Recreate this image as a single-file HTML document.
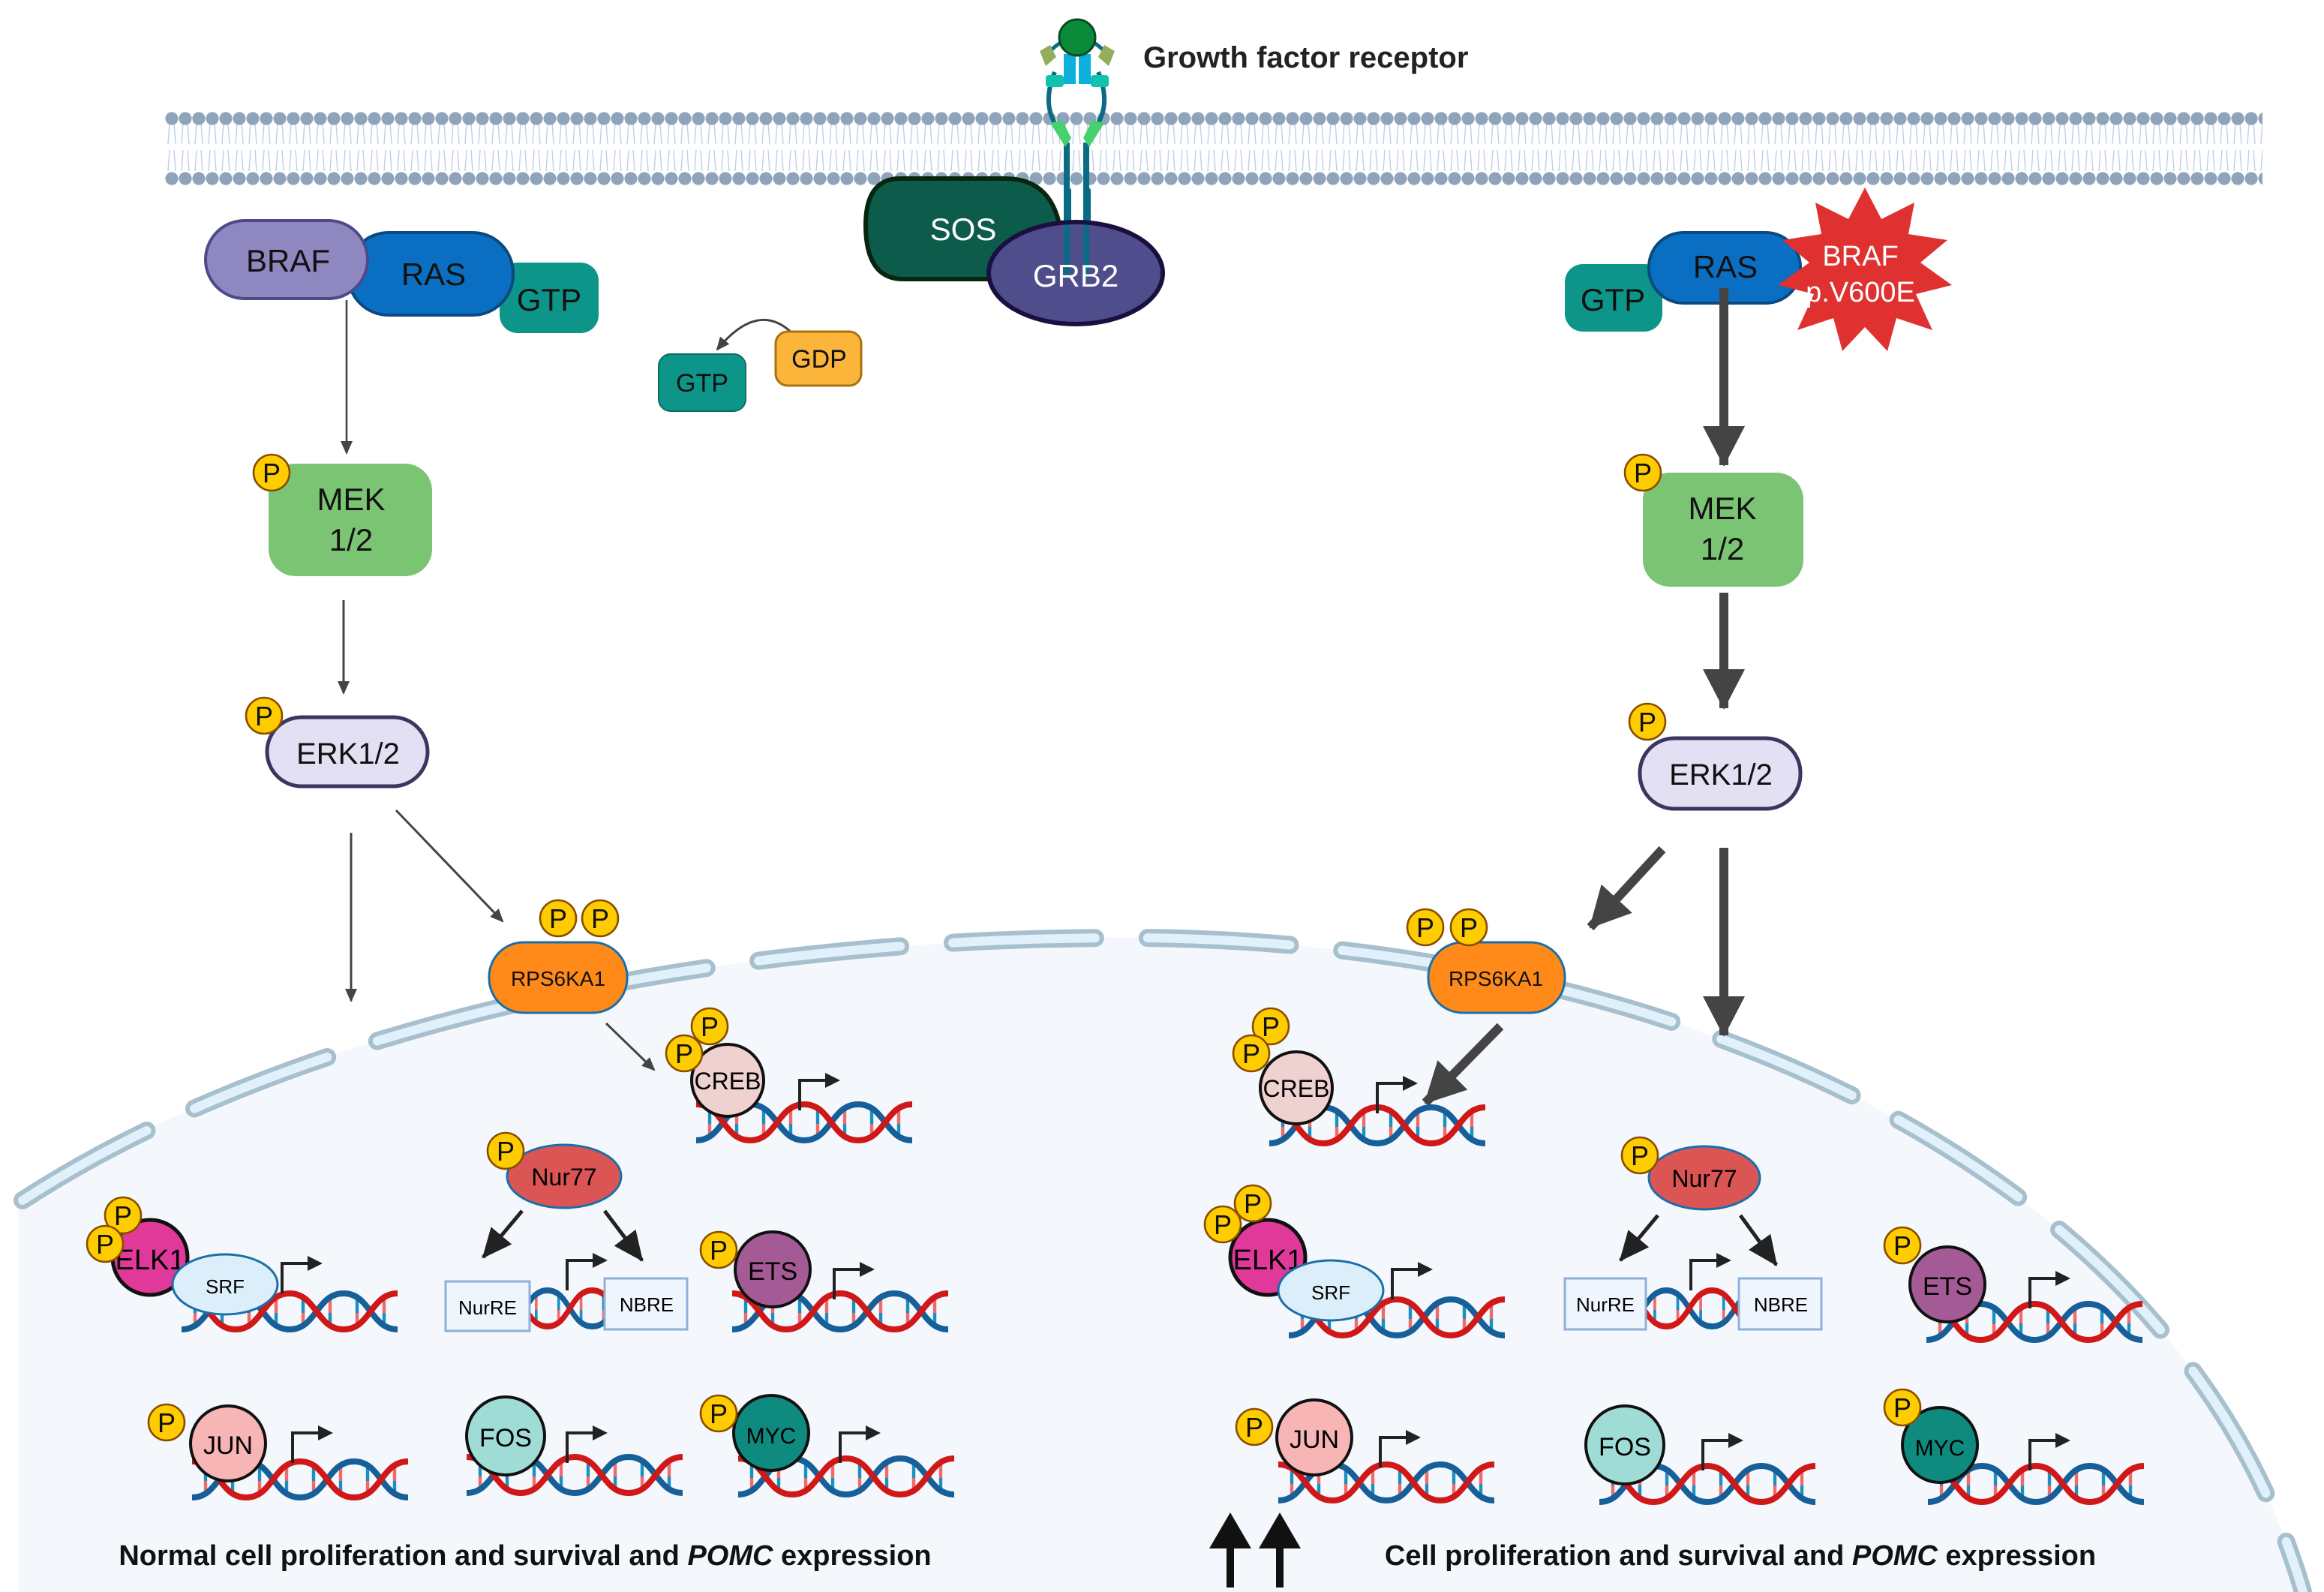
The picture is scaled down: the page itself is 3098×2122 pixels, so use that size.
<!DOCTYPE html>
<html><head><meta charset="utf-8"><style>
html,body{margin:0;padding:0;background:#fff}
svg{display:block}
text{font-family:"Liberation Sans",sans-serif}
</style></head><body>
<svg width="3098" height="2122" viewBox="0 0 1549 1061" xmlns="http://www.w3.org/2000/svg">
<defs>
<pattern id="mem" patternUnits="userSpaceOnUse" x="110" y="72" width="9" height="52">
<line x1="3" y1="10" x2="2" y2="24" stroke="#bcd0e8" stroke-width="0.7"/>
<line x1="6" y1="10" x2="7" y2="24" stroke="#bcd0e8" stroke-width="0.7"/>
<line x1="3" y1="28" x2="2" y2="42" stroke="#bcd0e8" stroke-width="0.7"/>
<line x1="6" y1="28" x2="7" y2="42" stroke="#bcd0e8" stroke-width="0.7"/>
<circle cx="4.5" cy="7" r="4.3" fill="#8fa4bb"/>
<circle cx="4.5" cy="47" r="4.3" fill="#8fa4bb"/>
</pattern>
<g id="dna">
<g stroke-width="2.2">
<line x1="9" y1="6" x2="9" y2="15" stroke="#1a8fc0"/><line x1="9" y1="15" x2="9" y2="24" stroke="#f06a6a"/>
<line x1="27" y1="5" x2="27" y2="15" stroke="#f06a6a"/><line x1="27" y1="15" x2="27" y2="24" stroke="#1a8fc0"/>
<line x1="45" y1="5" x2="45" y2="15" stroke="#1a8fc0"/><line x1="45" y1="15" x2="45" y2="24" stroke="#f06a6a"/>
<line x1="63" y1="5" x2="63" y2="15" stroke="#f06a6a"/><line x1="63" y1="15" x2="63" y2="24" stroke="#1a8fc0"/>
<line x1="81" y1="5" x2="81" y2="15" stroke="#1a8fc0"/><line x1="81" y1="15" x2="81" y2="24" stroke="#f06a6a"/>
<line x1="99" y1="5" x2="99" y2="15" stroke="#f06a6a"/><line x1="99" y1="15" x2="99" y2="24" stroke="#1a8fc0"/>
<line x1="117" y1="5" x2="117" y2="15" stroke="#1a8fc0"/><line x1="117" y1="15" x2="117" y2="24" stroke="#f06a6a"/>
<line x1="135" y1="5" x2="135" y2="15" stroke="#f06a6a"/><line x1="135" y1="15" x2="135" y2="24" stroke="#1a8fc0"/>
</g>
<path d="M0 26 C18 26 18 2 36 2 S54 26 72 26 S90 2 108 2 S126 26 144 26" fill="none" stroke="#175f98" stroke-width="4"/>
<path d="M0 2 C18 2 18 26 36 26 S54 2 72 2 S90 26 108 26 S126 2 144 2" fill="none" stroke="#d01818" stroke-width="4"/>
</g>
<g id="prom"><path d="M0 0 V-20 H18" fill="none" stroke="#222" stroke-width="2"/><polygon points="17,-25 27,-20 17,-15" fill="#222"/></g>
<g id="P"><circle r="12" fill="#ffcc00" stroke="#8a4d00" stroke-width="1.3"/><text y="6.5" text-anchor="middle" font-size="18" fill="#111">P</text></g>
<marker id="ah" markerWidth="10" markerHeight="10" refX="8" refY="5" orient="auto" markerUnits="userSpaceOnUse"><polygon points="0,1 9,5 0,9" fill="#444"/></marker>
<marker id="ahb" markerWidth="30" markerHeight="30" refX="26" refY="15" orient="auto" markerUnits="userSpaceOnUse"><polygon points="0,1 27,15 0,29" fill="#444"/></marker>
<marker id="ahk" markerWidth="22" markerHeight="22" refX="19" refY="11" orient="auto" markerUnits="userSpaceOnUse"><polygon points="0,2 20,11 0,20" fill="#222"/></marker>
</defs>

<!-- nucleus -->
<path d="M12 800 C200 680 480 625 750 625 C1100 625 1450 770 1535 1061 L12 1061 Z" fill="#f4f8fd"/>
<path d="M15 800 C200 680 480 625 750 625 C1100 625 1450 770 1535 1061" fill="none" stroke="#a8bfcd" stroke-width="12" stroke-dasharray="95 35" stroke-linecap="round"/>
<path d="M15 800 C200 680 480 625 750 625 C1100 625 1450 770 1535 1061" fill="none" stroke="#e0f1fc" stroke-width="6" stroke-dasharray="95 35" stroke-linecap="round"/>

<!-- membrane -->
<rect x="110" y="72" width="1398" height="52" fill="url(#mem)"/>

<!-- receptor -->
<g>
<line x1="711" y1="95" x2="711" y2="185" stroke="#0a6b85" stroke-width="4"/>
<line x1="724" y1="95" x2="724" y2="185" stroke="#0a6b85" stroke-width="4"/>
<rect x="709" y="125" width="5" height="30" rx="2" fill="#0a6b85"/>
<rect x="722" y="125" width="5" height="30" rx="2" fill="#0a6b85"/>
<path d="M703 48 Q694 70 705 85" fill="none" stroke="#0a6b85" stroke-width="3"/>
<path d="M732 48 Q741 70 730 85" fill="none" stroke="#0a6b85" stroke-width="3"/>
<polygon points="700,82 708,80 714,92 710,98" fill="#45d16e"/>
<polygon points="736,82 728,80 722,92 726,98" fill="#45d16e"/>
<rect x="709" y="36" width="8" height="20" fill="#0bb1dc"/><rect x="719" y="36" width="8" height="20" fill="#0bb1dc"/>
<rect x="697" y="50" width="12" height="8" rx="2" fill="#11c2ad"/><rect x="727" y="50" width="12" height="8" rx="2" fill="#11c2ad"/>
<path d="M700 34 Q710 24 718 26 Q726 24 736 34" fill="none" stroke="#0a6b85" stroke-width="2.5"/>
<polygon points="693,34 700,30 704,38 697,44" fill="#93ad5a"/>
<polygon points="743,34 736,30 732,38 739,44" fill="#93ad5a"/>
<circle cx="718" cy="25" r="12" fill="#0b8a3a" stroke="#0a4a20" stroke-width="1.5"/>
</g>
<text x="762" y="45" font-size="20" font-weight="bold" fill="#222">Growth factor receptor</text>

<!-- SOS / GRB2 -->
<path d="M600 119 H670 Q708 119 708 170 V186 H602 Q577 186 577 150 Q577 119 600 119 Z" fill="#0d5c4b" stroke="#06260f" stroke-width="3"/>
<text x="642" y="160" font-size="21" fill="#fff" text-anchor="middle">SOS</text>
<ellipse cx="717" cy="182" rx="58" ry="34" fill="#4f4d8c" stroke="#1a1040" stroke-width="3"/>
<line x1="711" y1="150" x2="711" y2="185" stroke="#0a6b85" stroke-width="4"/>
<line x1="724" y1="150" x2="724" y2="185" stroke="#0a6b85" stroke-width="4"/>
<text x="717" y="191" font-size="21" fill="#fff" text-anchor="middle">GRB2</text>

<!-- GTP/GDP -->
<path d="M528 222 Q505 200 478 233" fill="none" stroke="#444" stroke-width="1.5" marker-end="url(#ah)"/>
<rect x="439" y="236" width="58" height="38" rx="8" fill="#0e958a" stroke="#0a6b65"/>
<text x="468" y="261" font-size="17" text-anchor="middle" fill="#111">GTP</text>
<rect x="517" y="221" width="57" height="36" rx="8" fill="#fbb53b" stroke="#a8720f" stroke-width="1.5"/>
<text x="546" y="245" font-size="17" text-anchor="middle" fill="#111">GDP</text>

<!-- LEFT pathway -->
<rect x="333" y="175" width="66" height="47" rx="12" fill="#0e958a"/>
<text x="366" y="207" font-size="21" text-anchor="middle" fill="#111">GTP</text>
<rect x="232" y="155" width="110" height="55" rx="27" fill="#0a6fc2" stroke="#0a4a80" stroke-width="2"/>
<text x="289" y="190" font-size="21" text-anchor="middle" fill="#111">RAS</text>
<rect x="137" y="147" width="108" height="52" rx="26" fill="#8e87c0" stroke="#4d4a8a" stroke-width="2"/>
<text x="192" y="181" font-size="21" text-anchor="middle" fill="#111">BRAF</text>
<line x1="231" y1="200" x2="231" y2="302" stroke="#444" stroke-width="1.3" marker-end="url(#ah)"/>
<rect x="179" y="309" width="109" height="75" rx="18" fill="#7bc474"/>
<text x="234" y="340" font-size="21" text-anchor="middle" fill="#111">MEK</text>
<text x="234" y="367" font-size="21" text-anchor="middle" fill="#111">1/2</text>
<use href="#P" x="181" y="315"/>
<line x1="229" y1="400" x2="229" y2="462" stroke="#444" stroke-width="1.5" marker-end="url(#ah)"/>
<rect x="178" y="478" width="107" height="46" rx="23" fill="#e4e0f3" stroke="#3b3560" stroke-width="2.5"/>
<text x="232" y="509" font-size="20" text-anchor="middle" fill="#111">ERK1/2</text>
<use href="#P" x="176" y="477"/>
<line x1="234" y1="555" x2="234" y2="667" stroke="#444" stroke-width="1.5" marker-end="url(#ah)"/>
<line x1="264" y1="540" x2="335" y2="614" stroke="#444" stroke-width="1.5" marker-end="url(#ah)"/>
<rect x="326" y="628" width="92" height="47" rx="23" fill="#ff8a1a" stroke="#1b6fa8" stroke-width="1.5"/>
<text x="372" y="657" font-size="14" text-anchor="middle" fill="#111">RPS6KA1</text>
<use href="#P" x="372" y="612"/><use href="#P" x="400" y="612"/>
<line x1="404" y1="682" x2="436" y2="713" stroke="#444" stroke-width="1.5" marker-end="url(#ah)"/>

<!-- left genes -->
<use href="#dna" x="464" y="734"/><use href="#prom" x="533" y="740"/>
<circle cx="485" cy="720" r="24" fill="#efd1cf" stroke="#111" stroke-width="2"/>
<text x="485" y="726" font-size="16" text-anchor="middle">CREB</text>
<use href="#P" x="473" y="684"/><use href="#P" x="456" y="702"/>

<use href="#dna" transform="translate(335,858) scale(0.83,1)"/><use href="#prom" x="378" y="860"/>
<line x1="348" y1="807" x2="322" y2="838" stroke="#222" stroke-width="2.5" marker-end="url(#ahk)"/>
<line x1="403" y1="807" x2="428" y2="840" stroke="#222" stroke-width="2.5" marker-end="url(#ahk)"/>
<rect x="297" y="854" width="56" height="33" fill="#eef5fd" stroke="#8fb0d8" stroke-width="1.5"/>
<text x="325" y="876" font-size="13" text-anchor="middle">NurRE</text>
<rect x="403" y="852" width="55" height="34" fill="#eef5fd" stroke="#8fb0d8" stroke-width="1.5"/>
<text x="431" y="874" font-size="13" text-anchor="middle">NBRE</text>
<ellipse cx="376" cy="784" rx="38" ry="21" fill="#dc5555" stroke="#1b6fa8" stroke-width="1.5"/>
<text x="376" y="790" font-size="16" text-anchor="middle">Nur77</text>
<use href="#P" x="337" y="767"/>

<use href="#dna" x="121" y="860"/><use href="#prom" x="188" y="862"/>
<circle cx="100" cy="838" r="25" fill="#e0399a" stroke="#111" stroke-width="2.5"/>
<text x="100" y="846" font-size="19" text-anchor="middle">ELK1</text>
<ellipse cx="150" cy="856" rx="35" ry="20" fill="#dceefa" stroke="#1b6fa8" stroke-width="1.5"/>
<text x="150" y="862" font-size="13" text-anchor="middle">SRF</text>
<use href="#P" x="82" y="810"/><use href="#P" x="70" y="829"/>

<use href="#dna" x="488" y="860"/><use href="#prom" x="556" y="866"/>
<circle cx="515" cy="846" r="25" fill="#a45a95" stroke="#111" stroke-width="2"/>
<text x="515" y="853" font-size="17" text-anchor="middle">ETS</text>
<use href="#P" x="479" y="833"/>

<use href="#dna" x="128" y="972"/><use href="#prom" x="195" y="975"/>
<circle cx="152" cy="962" r="25" fill="#f8b5b5" stroke="#111" stroke-width="2"/>
<text x="152" y="969" font-size="17" text-anchor="middle">JUN</text>
<use href="#P" x="111" y="948"/>

<use href="#dna" x="311" y="969"/><use href="#prom" x="378" y="975"/>
<circle cx="337" cy="957" r="26" fill="#9fdcd5" stroke="#111" stroke-width="2"/>
<text x="337" y="964" font-size="17" text-anchor="middle">FOS</text>

<use href="#dna" x="492" y="970"/><use href="#prom" x="560" y="975"/>
<circle cx="514" cy="955" r="25" fill="#0e8a7e" stroke="#111" stroke-width="2"/>
<text x="514" y="962" font-size="15" text-anchor="middle">MYC</text>
<use href="#P" x="479" y="942"/>

<text x="350" y="1043" font-size="19" font-weight="bold" text-anchor="middle" fill="#111">Normal cell proliferation and survival and <tspan font-style="italic">POMC</tspan> expression</text>

<!-- RIGHT pathway -->
<rect x="1043" y="176" width="65" height="45" rx="12" fill="#0e958a"/>
<text x="1075" y="207" font-size="21" text-anchor="middle" fill="#111">GTP</text>
<rect x="1099" y="155" width="101" height="47" rx="23" fill="#0a6fc2" stroke="#0a4a80" stroke-width="2"/>
<text x="1150" y="185" font-size="21" text-anchor="middle" fill="#111">RAS</text>
<polygon points="1243,125 1254,146 1276,135 1272,156 1298,160 1280,175 1301,190 1277,196 1288,220 1264,212 1258,234 1243,218 1228,234 1222,212 1198,220 1209,196 1185,190 1206,175 1188,160 1214,156 1210,135 1232,146" fill="#e03131"/>
<text x="1240" y="177" font-size="19" text-anchor="middle" fill="#fff">BRAF</text>
<text x="1240" y="201" font-size="19" text-anchor="middle" fill="#fff">p.V600E</text>
<line x1="1149" y1="192" x2="1149" y2="310" stroke="#444" stroke-width="6" marker-end="url(#ahb)"/>
<rect x="1095" y="315" width="107" height="76" rx="18" fill="#7bc474"/>
<text x="1148" y="346" font-size="21" text-anchor="middle" fill="#111">MEK</text>
<text x="1148" y="373" font-size="21" text-anchor="middle" fill="#111">1/2</text>
<use href="#P" x="1095" y="315"/>
<line x1="1149" y1="395" x2="1149" y2="472" stroke="#444" stroke-width="6" marker-end="url(#ahb)"/>
<rect x="1093" y="492" width="107" height="47" rx="23" fill="#e4e0f3" stroke="#3b3560" stroke-width="2.5"/>
<text x="1147" y="523" font-size="20" text-anchor="middle" fill="#111">ERK1/2</text>
<use href="#P" x="1098" y="481"/>
<line x1="1108" y1="566" x2="1060" y2="618" stroke="#444" stroke-width="6" marker-end="url(#ahb)"/>
<line x1="1149" y1="565" x2="1149" y2="690" stroke="#444" stroke-width="6" marker-end="url(#ahb)"/>
<rect x="952" y="628" width="91" height="47" rx="23" fill="#ff8a1a" stroke="#1b6fa8" stroke-width="1.5"/>
<text x="997" y="657" font-size="14" text-anchor="middle" fill="#111">RPS6KA1</text>
<use href="#P" x="950" y="618"/><use href="#P" x="979" y="618"/>
<line x1="1000" y1="684" x2="950" y2="735" stroke="#444" stroke-width="6" marker-end="url(#ahb)"/>

<!-- right genes -->
<use href="#dna" x="846" y="736"/><use href="#prom" x="918" y="742"/>
<circle cx="864" cy="725" r="24" fill="#efd1cf" stroke="#111" stroke-width="2"/>
<text x="864" y="731" font-size="16" text-anchor="middle">CREB</text>
<use href="#P" x="847" y="684"/><use href="#P" x="834" y="702"/>

<use href="#dna" transform="translate(1080,858) scale(0.85,1)"/><use href="#prom" x="1127" y="860"/>
<line x1="1105" y1="810" x2="1080" y2="840" stroke="#222" stroke-width="2.5" marker-end="url(#ahk)"/>
<line x1="1160" y1="810" x2="1184" y2="843" stroke="#222" stroke-width="2.5" marker-end="url(#ahk)"/>
<rect x="1043" y="852" width="54" height="34" fill="#eef5fd" stroke="#8fb0d8" stroke-width="1.5"/>
<text x="1070" y="874" font-size="13" text-anchor="middle">NurRE</text>
<rect x="1159" y="852" width="55" height="34" fill="#eef5fd" stroke="#8fb0d8" stroke-width="1.5"/>
<text x="1187" y="874" font-size="13" text-anchor="middle">NBRE</text>
<ellipse cx="1136" cy="785" rx="37" ry="21" fill="#dc5555" stroke="#1b6fa8" stroke-width="1.5"/>
<text x="1136" y="791" font-size="16" text-anchor="middle">Nur77</text>
<use href="#P" x="1093" y="770"/>

<use href="#dna" x="859" y="864"/><use href="#prom" x="928" y="866"/>
<circle cx="845" cy="838" r="25" fill="#e0399a" stroke="#111" stroke-width="2.5"/>
<text x="845" y="846" font-size="19" text-anchor="middle">ELK1</text>
<ellipse cx="887" cy="860" rx="35" ry="20" fill="#dceefa" stroke="#1b6fa8" stroke-width="1.5"/>
<text x="887" y="866" font-size="13" text-anchor="middle">SRF</text>
<use href="#P" x="835" y="802"/><use href="#P" x="815" y="816"/>

<use href="#dna" x="1284" y="867"/><use href="#prom" x="1353" y="872"/>
<circle cx="1298" cy="856" r="25" fill="#a45a95" stroke="#111" stroke-width="2"/>
<text x="1298" y="863" font-size="17" text-anchor="middle">ETS</text>
<use href="#P" x="1268" y="830"/>

<use href="#dna" x="852" y="974"/><use href="#prom" x="920" y="978"/>
<circle cx="876" cy="958" r="25" fill="#f8b5b5" stroke="#111" stroke-width="2"/>
<text x="876" y="965" font-size="17" text-anchor="middle">JUN</text>
<use href="#P" x="836" y="951"/>

<use href="#dna" x="1066" y="975"/><use href="#prom" x="1135" y="980"/>
<circle cx="1083" cy="963" r="26" fill="#9fdcd5" stroke="#111" stroke-width="2"/>
<text x="1083" y="970" font-size="17" text-anchor="middle">FOS</text>

<use href="#dna" x="1285" y="975"/><use href="#prom" x="1353" y="980"/>
<circle cx="1293" cy="963" r="25" fill="#0e8a7e" stroke="#111" stroke-width="2"/>
<text x="1293" y="970" font-size="15" text-anchor="middle">MYC</text>
<use href="#P" x="1268" y="938"/>

<!-- up arrows -->
<line x1="820" y1="1058" x2="820" y2="1030" stroke="#111" stroke-width="5"/>
<polygon points="806,1032 820,1008 834,1032" fill="#111"/>
<line x1="853" y1="1058" x2="853" y2="1030" stroke="#111" stroke-width="5"/>
<polygon points="839,1032 853,1008 867,1032" fill="#111"/>

<text x="1160" y="1043" font-size="19" font-weight="bold" text-anchor="middle" fill="#111">Cell proliferation and survival and <tspan font-style="italic">POMC</tspan> expression</text>
</svg>
</body></html>
